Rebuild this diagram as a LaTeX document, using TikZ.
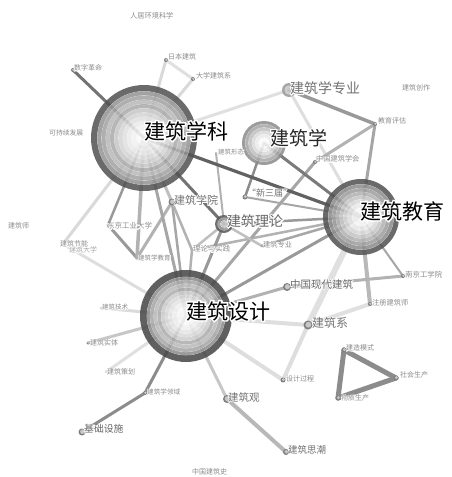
\documentclass[tikz,border=0pt]{standalone}
\usepackage{fontspec}
\newfontfamily\cjk{Noto Sans CJK SC}
\newfontfamily\cjkhalo[FakeBold=14]{Noto Sans CJK SC}
\tikzset{
  ed/.style 2 args={draw=#1, line width=#2pt, line cap=round},
}
% label with white halo: #1 name, #2 position, #3 font size, #4 colour, #5 text
\newcommand{\lab}[5]{%
  \node[anchor=west,inner sep=0pt,font=\cjkhalo\fontsize{#3}{#3}\selectfont,text=white] (#1h) at #2 {#5};
  \node[anchor=west,inner sep=0pt,font=\cjk\fontsize{#3}{#3}\selectfont,text=#4] (#1) at #2 {#5};}
% tree ring: #1 centre, #2 radius, #3 list outer/inner/colour
\newcommand{\ring}[3]{%
  \foreach \ro/\ri/\c in {#3}{%
    \fill[\c, even odd rule, fill opacity=.86] (#1) circle[radius=\ro*#2pt] circle[radius=\ri*#2pt];
    \draw[white, line width=.35pt, opacity=.8] (#1) circle[radius=\ri*#2pt];}}
\newcommand{\sdot}[2]{%
  \fill[black!50] (#1) circle[radius=#2pt];
  \fill[black!22] ([xshift=.4pt,yshift=.3pt]#1) circle[radius=#2*.65pt];}
\begin{document}
\begin{tikzpicture}[x=1pt,y=-1pt]
\useasboundingbox (0,0) rectangle (451,477);
\fill[white] (0,0) rectangle (451,477);
% ---------- node positions ----------
\coordinate (xk) at (144,138);
\coordinate (jzx) at (264,143);
\coordinate (jy) at (361,217);
\coordinate (sj) at (186,316);
\coordinate (ll) at (224,224);
\coordinate (zy) at (289,90);
\coordinate (pg) at (375,124);
\coordinate (xh) at (315,162);
\coordinate (xsj) at (245,197);
\coordinate (xt) at (216,153);
\coordinate (xy) at (172,202);
\coordinate (dj) at (108,225);
\coordinate (jn) at (63,244);
\coordinate (jxjy) at (137,258);
\coordinate (llsj) at (192,250);
\coordinate (jzzy) at (262,246);
\coordinate (xd) at (287,287);
\coordinate (ng) at (403,276);
\coordinate (zc) at (370,304);
\coordinate (js) at (101,308);
\coordinate (xi) at (308,325);
\coordinate (st) at (88,343);
\coordinate (ch) at (106,372);
\coordinate (gc) at (283,380);
\coordinate (ly) at (145,393);
\coordinate (jg) at (227,399);
\coordinate (sc) at (286,452);
\coordinate (jc) at (82,432);
\coordinate (ms) at (344,350);
\coordinate (sh) at (396,378);
\coordinate (wz) at (338,398);
\coordinate (rb) at (166,60);
\coordinate (dx) at (193,79);
\coordinate (sz) at (73,70);
% ---------- edges ----------
\draw[ed={black!12}{6}] (jy) -- (xi);
\draw[ed={black!12}{4}] (zc) -- (xi);
\draw[ed={black!13}{4}] (sj) -- (xi);
\draw[ed={black!13}{4}] (xi) -- (gc);
\draw[ed={black!13}{4}] (sj) -- (gc);
\draw[ed={black!12}{3}] (xk) -- (zy);
\draw[ed={black!13}{3}] (zy) -- (jy);
\draw[ed={black!15}{3}] (xk) -- (rb);
\draw[ed={black!15}{3}] (xk) -- (dx);
\draw[ed={black!12}{3}] (rb) -- (dx);
\draw[ed={black!15}{3}] (xk) -- (jn);
\draw[ed={black!13}{3}] (sj) -- (jn);
\draw[ed={black!12}{3}] (sj) -- (ch);
\draw[ed={black!22}{3}] (sj) -- (st);
\draw[ed={black!14}{3}] (sj) -- (js);
\draw[ed={black!22}{3}] (sj) -- (jg);
\draw[ed={black!28}{4}] (jg) -- (sc);
\draw[ed={black!45}{3}] (sj) -- (ly);
\draw[ed={black!45}{3}] (ly) -- (jc);
\draw[ed={black!28}{4}] (jy) -- (zc);
\draw[ed={black!30}{3}] (sj) -- (xd);
\draw[ed={black!30}{3}] (xd) -- (ng);
\draw[ed={black!35}{2}] (ng) -- (jy);
\draw[ed={black!40}{3}] (sj) -- (jy);
\draw[ed={black!30}{2.5}] (llsj) -- (jy);
\draw[ed={black!35}{3}] (xh) -- (sj);
\draw[ed={black!30}{3}] (pg) -- (xh);
\draw[ed={black!35}{3}] (pg) -- (jy);
\draw[ed={black!40}{3.5}] (zy) -- (pg);
\draw[ed={black!40}{2.5}] (dj) -- (xk);
\draw[ed={black!40}{3}] (dj) -- (jxjy);
\draw[ed={black!30}{3.5}] (xk) -- (jxjy);
\draw[ed={black!30}{3}] (xy) -- (jxjy);
\draw[ed={black!25}{3}] (xk) -- (xy);
\draw[ed={black!35}{2.5}] (xy) -- (sj);
\draw[ed={black!30}{2.5}] (xy) -- (llsj);
\draw[ed={black!25}{2.5}] (llsj) -- (ll);
\draw[ed={black!30}{2.5}] (llsj) -- (sj);
\draw[ed={black!35}{3}] (xk) -- (sj);
\draw[ed={black!40}{3}] (ll) -- (sj);
\draw[ed={black!25}{2.5}] (ll) -- (jzzy);
\draw[ed={black!35}{2.5}] (jzzy) -- (jy);
\draw[ed={black!30}{2}] (xt) -- (ll);
\draw[ed={black!40}{2.5}] (ll) -- (jy);
\draw[ed={black!45}{2.5}] (jzx) -- (xsj);
\draw[ed={black!35}{2}] (xsj) -- (jy);
\draw[ed={black!52}{3}] (jzx) -- (jy);
\draw[ed={black!55}{3}] (xk) -- (ll);
\draw[ed={black!62}{3.2}] (xk) -- (jy);
\draw[ed={black!55}{3}] (xk) -- (sz);
\draw[ed={black!45}{5}] (ms) -- (sh);
\draw[ed={black!45}{5}] (sh) -- (wz);
\draw[ed={black!45}{5}] (wz) -- (ms);
% ---------- tree rings ----------
\ring{xk}{53}{1/.88/black!68, .88/.8/black!42, .8/.72/black!36, .72/.64/black!28, .64/.56/black!33, .56/.48/black!22, .48/.4/black!17, .4/.32/black!12, .32/.24/black!8, .24/.14/black!5, .14/0/black!2}
\ring{sj}{46}{1/.85/black!72, .85/.78/black!45, .78/.7/black!35, .7/.62/black!27, .62/.54/black!32, .54/.46/black!20, .46/.38/black!15, .38/.3/black!10, .3/.2/black!6, .2/0/black!2}
\ring{jy}{38}{1/.86/black!68, .86/.76/black!45, .76/.66/black!38, .66/.56/black!30, .56/.46/black!22, .46/.36/black!15, .36/.24/black!8, .24/0/black!2}
\ring{jzx}{22}{1/.85/black!45, .85/.7/black!35, .7/.55/black!25, .55/.4/black!15, .4/.25/black!8, .25/0/black!2}
\ring{ll}{9}{1/.7/black!65, .7/.4/black!40, .4/0/black!20}
\ring{zy}{7}{1/.6/black!40, .6/0/black!22}
% small nodes
\sdot{xy}{3.5}
\sdot{xi}{4.5}
\sdot{xd}{4}
\sdot{jg}{4}
\sdot{sc}{3}
\sdot{jc}{3.5}
\sdot{gc}{2.5}
\sdot{ms}{2.5}
\sdot{sh}{2.5}
\sdot{wz}{2.5}
\sdot{xsj}{2.5}
\sdot{zc}{2}
\sdot{ng}{2}
\sdot{pg}{2}
\sdot{xh}{2}
\sdot{rb}{2}
\sdot{dx}{2}
\sdot{sz}{2}
\sdot{ly}{2}
\sdot{st}{1.5}
% ---------- labels ----------
\lab{Lrj}{(130,16)}{7.2}{black!45}{人居环境科学}
\lab{Lrb}{(168,57)}{7}{black!45}{日本建筑}
\lab{Ldx}{(196,76)}{7}{black!45}{大学建筑系}
\lab{Lsz}{(74,68)}{7}{black!45}{数字革命}
\lab{Lkc}{(49,133)}{6.8}{black!45}{可持续发展}
\lab{Lcz}{(402,88)}{7}{black!45}{建筑创作}
\lab{Lpg}{(378,121)}{7}{black!45}{教育评估}
\lab{Lxt}{(218,152)}{6.5}{black!45}{建筑形态}
\lab{Lxh}{(316,159)}{7.2}{black!45}{中国建筑学会}
\lab{Ljzs}{(8,226)}{7}{black!45}{建筑师}
\lab{Ldj}{(107,226)}{7.5}{black!45}{东京工业大学}
\lab{Ldxb}{(69,250)}{7}{black!35}{建筑大学}
\lab{Ljn}{(60,244)}{7}{black!45}{建筑节能}
\lab{Ljxjy}{(138,258)}{6.5}{black!45}{建筑学教育}
\lab{Lllsj}{(193,249)}{7.4}{black!45}{理论与实践}
\lab{Ljzzy}{(263,245)}{7.2}{black!45}{建筑专业}
\lab{Lng}{(405,275)}{7.4}{black!45}{南京工学院}
\lab{Lzc}{(372,303)}{7.2}{black!45}{注册建筑师}
\lab{Ljs}{(102,307)}{6.5}{black!45}{建筑技术}
\lab{Lst}{(90,343)}{7}{black!45}{建筑实体}
\lab{Lms}{(346,348)}{7}{black!45}{建造模式}
\lab{Lch}{(107,372)}{7}{black!45}{建筑策划}
\lab{Lsh}{(400,375)}{7}{black!45}{社会生产}
\lab{Lgc}{(286,379)}{7}{black!45}{设计过程}
\lab{Lly}{(147,392)}{6.6}{black!45}{建筑学领域}
\lab{Lwz}{(341,398)}{7}{black!45}{物质生产}
\lab{Lls}{(192,472)}{7}{black!45}{中国建筑史}
\lab{Lxsj}{(247,193)}{9}{black!55}{“新三届”}
\lab{Lxy}{(174,200)}{11}{black!55}{建筑学院}
\lab{Lxd}{(290,284)}{10.5}{black!60}{中国现代建筑}
\lab{Ljg}{(228,397)}{10.5}{black!55}{建筑观}
\lab{Lsc}{(288,450)}{9.5}{black!55}{建筑思潮}
\lab{Ljc}{(84,429)}{9.8}{black!60}{基础设施}
\lab{Lxi}{(312,323)}{12}{black!55}{建筑系}
\lab{Lzy}{(290,88)}{14}{black!55}{建筑学专业}
\lab{Lll}{(227,221)}{14}{black!60}{建筑理论}
\lab{Ljzx}{(270,138)}{19}{black!85}{建筑学}
\lab{Lxk}{(144,131)}{21}{black}{建筑学科}
\lab{Ljy}{(360,211)}{21}{black}{建筑教育}
\lab{Lsj}{(186,311)}{21}{black}{建筑设计}
\end{tikzpicture}
\end{document}
